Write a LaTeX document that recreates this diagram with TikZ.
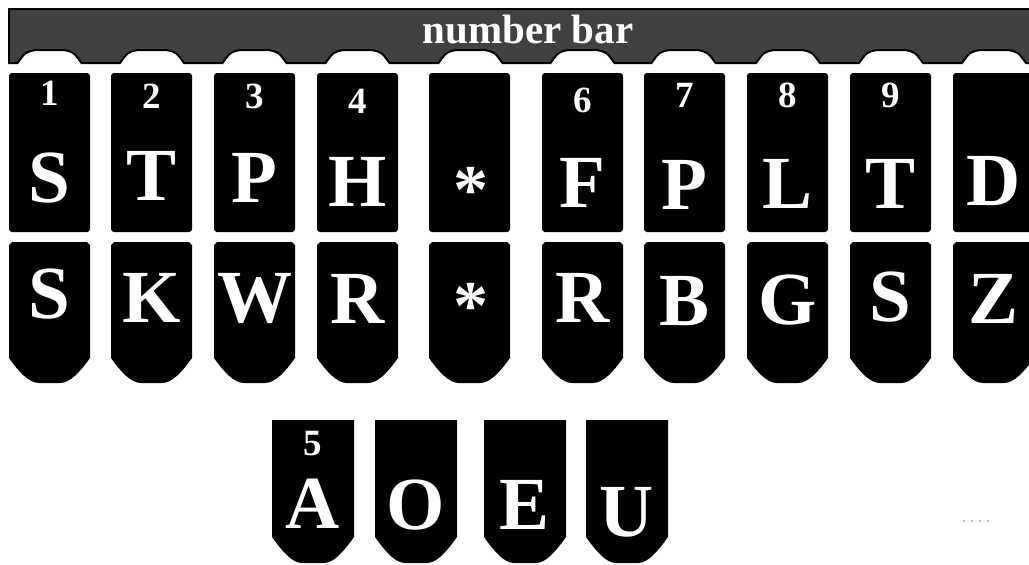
\documentclass[tikz,border=0pt]{standalone}
\usepackage{fontspec}
\setmainfont{Liberation Serif}
\usepackage{tikz}
\usetikzlibrary{calc}
\usepackage{xcolor}
\definecolor{BarGray}{HTML}{414141}
\definecolor{DotGray}{HTML}{B4B4B4}

\begin{document}
\begin{tikzpicture}[x=1pt,y=-1pt,
  keyletter/.style={text=white,font=\bfseries\fontsize{75}{75}\selectfont,anchor=base,inner sep=0pt},
  keystar/.style={text=white,font=\bfseries\fontsize{70}{70}\selectfont,anchor=base,inner sep=0pt},
  keynum/.style={text=white,font=\bfseries\fontsize{37}{37}\selectfont,anchor=base,inner sep=0pt},
  barlabel/.style={text=white,font=\bfseries\fontsize{41}{41}\selectfont,anchor=base,inner sep=0pt}]
  \useasboundingbox (0,0) rectangle (1029,565);
  \clip (0,0) rectangle (1029,565);
  % number bar with one bump above every key
  \filldraw[fill=BarGray,draw=black,line width=2pt] (9,9) -- (9,63)
    \foreach \c in {49.5,152,254.5,357.5,470.5,582.5,683.5,788,891,994}{
      -- (\c-32,63) .. controls (\c-24,52) .. (\c-14,50) -- (\c+14,50) .. controls (\c+24,52) .. (\c+32,63)}
    -- (1045,63) -- (1045,9) -- cycle;
  \node[barlabel] (bar) at (528,43) {number bar};
  % upper row
  \foreach \l/\n/\nb/\t/\b [count=\i] in {9/1/105/S/202,111/2/108/T/200,214/3/108/P/202,317/4/113/H/206,
      429//0/*/0,542/6/112/F/207,644/7/107/P/209,747/8/107/L/208,850/9/107/T/208,953//0/D/205}{
    \fill[black,rounded corners=3] (\l,73) rectangle ++(81,159);
    \ifnum\nb>0
      \node[keynum] (num\i) at (\l+40.5,\nb) {\n};
    \fi
    \ifnum\b>0
      \node[keyletter] (up\i) at (\l+40.5,\b) {\t};
    \fi
  }
  \node[keystar] (upstar) at (470.5,213) {*};
  % lower row
  \foreach \l/\t/\b [count=\i] in {9/S/318,111/K/322,214/W/322,317/R/323,429/*/0,
      542/R/322,644/B/325,747/G/324,850/S/321,953/Z/323}{
    \fill[black] (\l,245) -- ++(3,-3) -- ++(75,0) -- ++(3,3) -- (\l+81,358)
      .. controls (\l+71,372) and (\l+61,383) .. (\l+51,383) -- (\l+30,383)
      .. controls (\l+20,383) and (\l+10,372) .. (\l,358) -- cycle;
    \ifnum\b>0
      \node[keyletter] (low\i) at (\l+40.5,\b) {\t};
    \fi
  }
  \node[keystar] (lowstar) at (470.5,329) {*};
  % vowel keys
  \foreach \l/\t/\b [count=\i] in {272/A/528,375/O/529,484/E/529,586/U/536}{
    \fill[black] (\l,420) -- ++(82,0) -- (\l+82,537)
      .. controls (\l+72,551) and (\l+62,563) .. (\l+52,563) -- (\l+30,563)
      .. controls (\l+20,563) and (\l+10,551) .. (\l,537) -- cycle;
    \node[keyletter] (vow\i) at (\l+41,\b) {\t};
  }
  \node[keynum] (num5) at (313,455) {5};
  % faint specks
  \foreach \x in {964,972,980,988}{\fill[DotGray] (\x-0.8,520.2) rectangle ++(1.6,1.6);}
\end{tikzpicture}
\end{document}
